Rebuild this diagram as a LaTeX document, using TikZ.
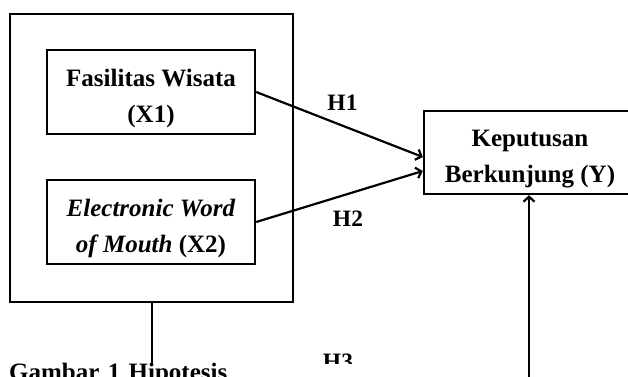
\documentclass[tikz,border=0pt]{standalone}
\usepackage{fontspec}
\setmainfont{Liberation Serif}
\usetikzlibrary{arrows.meta}
\begin{document}
\begin{tikzpicture}[x=1pt,y=1pt,
  line width=2.4pt,
  box/.style={draw, line width=2.4pt, minimum width=208pt, minimum height=84pt, align=center, inner sep=0pt,
    text height=64pt, text depth=4pt,
    font=\fontsize{25}{36}\selectfont\bfseries},
  lbl/.style={font=\fontsize{23.5}{26}\selectfont\bfseries, inner sep=0pt},
  arr/.style={-{Straight Barb[length=5pt,width=11pt,line width=2.2pt]}, line width=2.2pt}]
\useasboundingbox (0,0) rectangle (628,376);
\clip (0,0) rectangle (628,376);
% outer frame
\node[draw, line width=2.4pt, minimum width=283pt, minimum height=288pt, inner sep=0pt] (outer) at (151.5,218) {};
\node[box] (x1) at (151,284) {Fasilitas Wisata\\(X1)};
\node[box] (x2) at (151,154) {\textit{Electronic Word}\\\textit{of Mouth} (X2)};
\node[box, minimum width=212pt, minimum height=83pt] (y) at (530,223.5) {Keputusan\\Berkunjung (Y)};
\coordinate (bot) at (529,-10);
\coordinate (lineend) at (152,-10);
\draw[arr] (x1.east) -- ([yshift=-4.5pt]y.west);
\draw[arr] (x2.east) -- ([yshift=-18.5pt]y.west);
\draw[arr] (bot) -- (y.south -| bot);
\draw (outer.south -| lineend) -- (lineend);
\node[lbl, anchor=base] (h1) at (342.5,266) {H1};
\node[lbl, anchor=base] (h2) at (348,150) {H2};
\node[lbl, anchor=base] (h3) at (338,7) {H3};
% caption
\node[anchor=north west, fill=white, inner xsep=8pt, inner ysep=0pt, text height=16pt, text width=499pt, align=left,
  font=\fontsize{25}{30}\selectfont\bfseries] (cap) at (0,13) {Gambar 1 Hipotesis};
\end{tikzpicture}
\end{document}
